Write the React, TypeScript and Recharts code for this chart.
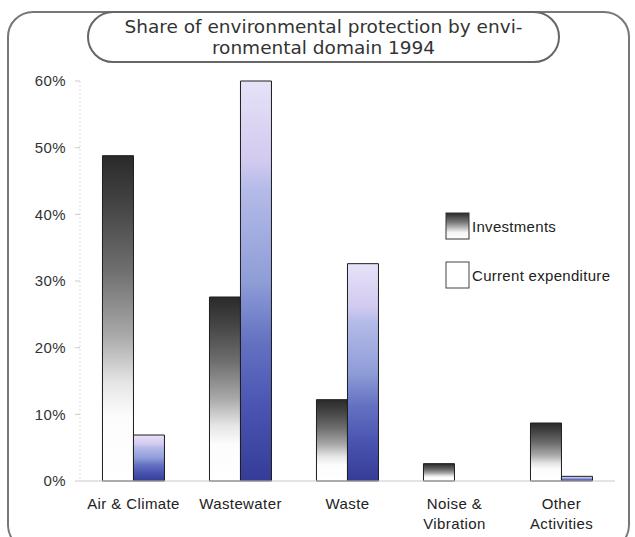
import React from "react";
import { BarChart, Bar, XAxis, YAxis } from "recharts";

const categories = ["Air & Climate", "Wastewater", "Waste", "Noise &\nVibration", "Other\nActivities"];
const investments = [48.8, 27.6, 12.2, 2.6, 8.7];
const currentExpenditure = [6.9, 60, 32.6, 0, 0.7];
const yTicks = [0, 10, 20, 30, 40, 50, 60];
const titleLines = ["Share of environmental protection by envi-", "ronmental domain 1994"];
const seriesNames = ["Investments", "Current expenditure"];

const data = categories.map((c, i) => ({
  name: c,
  investments: investments[i],
  current: currentExpenditure[i],
}));

const FONT = "'Liberation Sans', Arial, sans-serif";

const XTick = (props: any) => {
  const { x, y, payload } = props;
  const lines = String(payload.value).split("\n");
  return (
    <g>
      {lines.map((l: string, i: number) => (
        <text
          key={i}
          x={x}
          y={y + 20 + i * 20}
          textAnchor="middle"
          fontFamily={FONT}
          fontSize={15}
          fill="#222"
          letterSpacing={0.4}
        >
          {l}
        </text>
      ))}
    </g>
  );
};

const LegendBox = () => (
  <div
    style={{
      position: "absolute",
      left: 445,
      top: 212,
      fontFamily: FONT,
      fontSize: 15,
      color: "#222",
      letterSpacing: 0.3,
    }}
  >
    <div style={{ display: "flex", alignItems: "center", height: 28 }}>
      <svg width={26} height={28} style={{ display: "block" }}>
        <defs>
          <linearGradient id="legInv" x1="0" y1="0" x2="0" y2="1">
            <stop offset="0" stopColor="#2a2a2a" />
            <stop offset="0.35" stopColor="#777" />
            <stop offset="0.75" stopColor="#f4f4f4" />
            <stop offset="1" stopColor="#fff" />
          </linearGradient>
        </defs>
        <rect x={1} y={1} width={23} height={26} fill="url(#legInv)" stroke="#333" strokeWidth={1} />
      </svg>
      <span style={{ marginLeft: 1 }}>{seriesNames[0]}</span>
    </div>
    <div style={{ display: "flex", alignItems: "center", height: 28, marginTop: 21 }}>
      <svg width={26} height={28} style={{ display: "block" }}>
        <rect x={1} y={1} width={23} height={26} fill="#fff" stroke="#444" strokeWidth={1} />
      </svg>
      <span style={{ marginLeft: 1 }}>{seriesNames[1]}</span>
    </div>
  </div>
);

export default function App() {
  return (
    <div
      style={{
        position: "absolute",
        left: 0,
        top: 0,
        width: 635,
        height: 537,
        overflow: "hidden",
        background: "#fff",
      }}
    >
      <div
        style={{
          position: "absolute",
          left: 7,
          top: 11,
          width: 623,
          height: 540,
          border: "2px solid #777",
          borderRadius: 26,
          boxSizing: "border-box",
        }}
      />
      <div style={{ position: "absolute", left: 0, top: 0 }}>
        <BarChart
          width={635}
          height={537}
          data={data}
          margin={{ top: 81, right: 20, bottom: 0, left: 0 }}
          barCategoryGap="21%"
          barGap={0}
        >
          <defs>
            <linearGradient id="gInv" x1="0" y1="0" x2="0" y2="1">
              <stop offset="0" stopColor="#2a2a2a" />
              <stop offset="0.15" stopColor="#444" />
              <stop offset="0.35" stopColor="#6e6e6e" />
              <stop offset="0.55" stopColor="#a8a8a8" />
              <stop offset="0.7" stopColor="#e6e6e6" />
              <stop offset="0.8" stopColor="#fcfcfc" />
              <stop offset="1" stopColor="#ffffff" />
            </linearGradient>
            <linearGradient id="gCur" x1="0" y1="0" x2="0" y2="1">
              <stop offset="0" stopColor="#e6e2f8" />
              <stop offset="0.2" stopColor="#d2caf0" />
              <stop offset="0.27" stopColor="#b4bbe8" />
              <stop offset="0.5" stopColor="#8f9dd8" />
              <stop offset="0.65" stopColor="#6472c2" />
              <stop offset="0.82" stopColor="#4a54b0" />
              <stop offset="1" stopColor="#343c96" />
            </linearGradient>
          </defs>
          <XAxis
            dataKey="name"
            height={56}
            interval={0}
            tick={<XTick />}
            tickLine={false}
            axisLine={{ stroke: "#c8c8c8" }}
          />
          <YAxis
            width={80}
            domain={[0, 60]}
            ticks={yTicks}
            interval={0}
            tickFormatter={(v: number) => `${v}%`}
            tick={{ fontFamily: FONT, fontSize: 15, fill: "#333", letterSpacing: 0.4 }}
            tickSize={5}
            tickMargin={9}
            tickLine={{ stroke: "#ccc" }}
            axisLine={{ stroke: "#ddd", strokeDasharray: "2 2" }}
          />
          <Bar
            dataKey="investments"
            name={seriesNames[0]}
            fill="url(#gInv)"
            stroke="#1e1e1e"
            strokeWidth={1}
            isAnimationActive={false}
          />
          <Bar
            dataKey="current"
            name={seriesNames[1]}
            fill="url(#gCur)"
            stroke="#1e1e1e"
            strokeWidth={1}
            isAnimationActive={false}
          />
        </BarChart>
      </div>
      <LegendBox />
      <div
        style={{
          position: "absolute",
          left: 87,
          top: 11,
          width: 473,
          height: 52,
          border: "2px solid #666",
          borderRadius: 26,
          boxSizing: "border-box",
          background: "#fff",
          fontFamily: "'DejaVu Sans', sans-serif",
          fontSize: 18.5,
          color: "#333",
          textAlign: "center",
          lineHeight: "21px",
          paddingTop: 3,
          whiteSpace: "nowrap",
        }}
      >
        {titleLines.map((l, i) => (
          <div key={i}>{l}</div>
        ))}
      </div>
    </div>
  );
}
